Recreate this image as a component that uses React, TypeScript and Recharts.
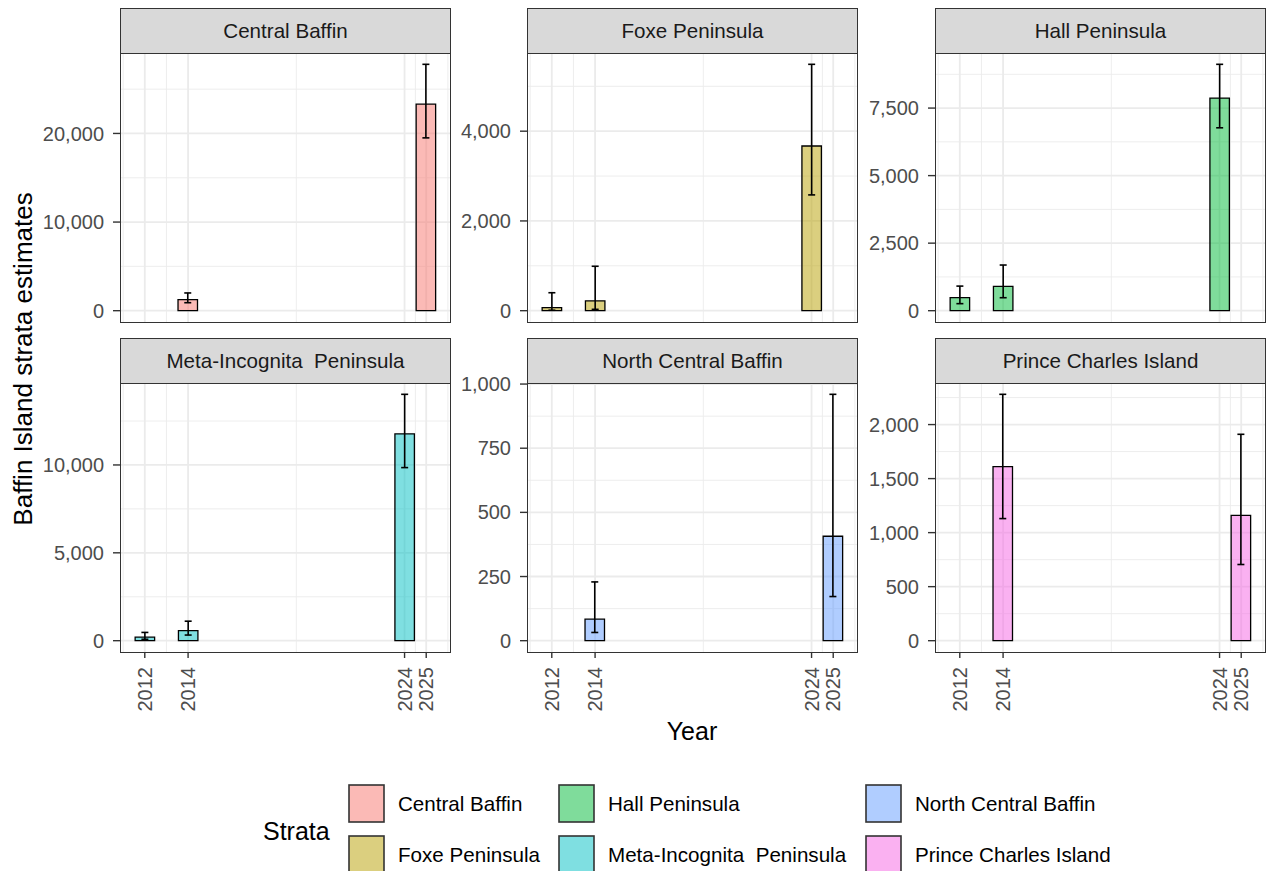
import React from "react";
import { BarChart, Bar, XAxis, YAxis, CartesianGrid, ErrorBar } from "recharts";

const strataNames = [
  "Central Baffin",
  "Foxe Peninsula",
  "Hall Peninsula",
  "Meta-Incognita  Peninsula",
  "North Central Baffin",
  "Prince Charles Island",
];
const strataColors = ["#F8766D", "#B79F00", "#00BA38", "#00BFC4", "#619CFF", "#F564E3"];
const yearTicks = [2012, 2014, 2024, 2025];

const centralBaffinYears = [2014, 2025];
const centralBaffinEstimate = [1250, 23300];
const centralBaffinLower = [900, 19500];
const centralBaffinUpper = [2000, 27800];
const centralBaffinTicks = [0, 10000, 20000];

const foxeYears = [2012, 2014, 2024];
const foxeEstimate = [70, 220, 3670];
const foxeLower = [10, 30, 2580];
const foxeUpper = [400, 990, 5490];
const foxeTicks = [0, 2000, 4000];

const hallYears = [2012, 2014, 2024];
const hallEstimate = [480, 900, 7870];
const hallLower = [260, 480, 6770];
const hallUpper = [910, 1690, 9120];
const hallTicks = [0, 2500, 5000, 7500];

const metaYears = [2012, 2014, 2024];
const metaEstimate = [200, 570, 11770];
const metaLower = [80, 320, 9850];
const metaUpper = [470, 1110, 14020];
const metaTicks = [0, 5000, 10000];

const northYears = [2014, 2025];
const northEstimate = [84, 407];
const northLower = [32, 172];
const northUpper = [229, 960];
const northTicks = [0, 250, 500, 750, 1000];

const princeYears = [2014, 2025];
const princeEstimate = [1610, 1160];
const princeLower = [1130, 705];
const princeUpper = [2280, 1910];
const princeTicks = [0, 500, 1000, 1500, 2000];

const FONT = "'Liberation Sans', Arial, sans-serif";
const Y_AXIS_W = 100;
const X_AXIS_H = 70;
const TOP_PAD = 20;
const PANEL_W = 331;
const PANEL_H = 271;
const STRIP_H = 44;
const COL_LEFT = [120, 527, 935];
const ROW_TOP = [52, 382];

// ggplot-like x limits: bar width 0.9, 5% expansion
const BAR_FRAC = 0.9;
const xLo = Math.min(...yearTicks) - BAR_FRAC / 2;
const xHi = Math.max(...yearTicks) + BAR_FRAC / 2;
const xPad = (xHi - xLo) * 0.05;
const xDomain = [xLo - xPad, xHi + xPad];
const BAR_W = (BAR_FRAC * PANEL_W) / (xDomain[1] - xDomain[0]);

function minorBreaks(b: number[], lim: number[]) {
  const bd = b[1] - b[0];
  let ext = [...b];
  if (lim[0] < ext[0]) ext = [ext[0] - bd, ...ext];
  if (lim[1] > ext[ext.length - 1]) ext = [...ext, ext[ext.length - 1] + bd];
  const out: number[] = [];
  for (let i = 0; i < ext.length - 1; i++) out.push((ext[i] + ext[i + 1]) / 2);
  return out.filter((v) => v > lim[0] && v < lim[1]);
}

const xMinor = minorBreaks(yearTicks, xDomain);

function YearTick(props: any) {
  const { x, y, payload } = props;
  return (
    <text
      x={x}
      y={y}
      transform={`rotate(-90, ${x}, ${y})`}
      textAnchor="end"
      dy="0.35em"
      fill="#4D4D4D"
      fontSize={20}
      fontFamily={FONT}
    >
      {payload.value}
    </text>
  );
}

type PanelProps = {
  idx: number;
  years: number[];
  est: number[];
  lo: number[];
  hi: number[];
  ticks: number[];
};

function Panel({ idx, years, est, lo, hi, ticks }: PanelProps) {
  const col = idx % 3;
  const row = Math.floor(idx / 3);
  const left = COL_LEFT[col];
  const top = ROW_TOP[row];
  const showX = row === 1;
  const data = years.map((y, i) => ({
    year: y,
    value: est[i],
    err: [est[i] - lo[i], hi[i] - est[i]],
  }));
  const maxV = Math.max(...hi);
  const yDomain = [-0.05 * maxV, 1.05 * maxV];
  const yMinor = minorBreaks(ticks, yDomain);
  const w = Y_AXIS_W + PANEL_W;
  const h = TOP_PAD + PANEL_H + (showX ? X_AXIS_H : 0);

  return (
    <>
      <div style={{ position: "absolute", left: left - Y_AXIS_W, top: top - TOP_PAD, width: w, height: h }}>
        <BarChart width={w} height={h} data={data} margin={{ top: TOP_PAD, right: 0, bottom: 0, left: 0 }}>
          <CartesianGrid
            stroke="#EBEBEB"
            strokeWidth={0.9}
            horizontalValues={yMinor}
            verticalValues={xMinor}
          />
          <CartesianGrid
            stroke="#EBEBEB"
            strokeWidth={1.8}
            horizontalValues={ticks}
            verticalValues={yearTicks}
          />
          <XAxis
            type="number"
            dataKey="year"
            domain={xDomain}
            ticks={yearTicks}
            interval={0}
            allowDataOverflow
            hide={!showX}
            height={X_AXIS_H}
            axisLine={false}
            tickSize={5}
            tickMargin={9}
            tickLine={{ stroke: "#333333", strokeWidth: 1.4 }}
            tick={<YearTick />}
          />
          <YAxis
            type="number"
            domain={yDomain}
            ticks={ticks}
            interval={0}
            allowDataOverflow
            width={Y_AXIS_W}
            axisLine={false}
            tickSize={7}
            tickMargin={9}
            tickLine={{ stroke: "#333333", strokeWidth: 1.4 }}
            tick={{ fill: "#4D4D4D", fontSize: 20, fontFamily: FONT }}
            tickFormatter={(v) => Number(v).toLocaleString("en-US")}
          />
          <Bar
            dataKey="value"
            fill={strataColors[idx]}
            fillOpacity={0.5}
            stroke="#000000"
            strokeWidth={1.3}
            barSize={BAR_W}
            isAnimationActive={false}
          >
            <ErrorBar
              dataKey="err"
              direction="y"
              width={3.5}
              stroke="#000000"
              strokeWidth={1.6}
              isAnimationActive={false}
            />
          </Bar>
        </BarChart>
      </div>
      <div
        style={{
          position: "absolute",
          left,
          top,
          width: PANEL_W,
          height: PANEL_H,
          border: "1.6px solid #333333",
          boxSizing: "border-box",
          pointerEvents: "none",
        }}
      />
      <div
        style={{
          position: "absolute",
          left,
          top: top - STRIP_H,
          width: PANEL_W,
          height: STRIP_H + 1.6,
          background: "#D9D9D9",
          border: "1.6px solid #333333",
          boxSizing: "border-box",
          display: "flex",
          alignItems: "center",
          justifyContent: "center",
          fontSize: 20.6,
          color: "#1A1A1A",
          whiteSpace: "pre",
        }}
      >
        {strataNames[idx]}
      </div>
    </>
  );
}

const legendKeyX = [349, 559, 866];
const legendKeyY = [785, 836];

export default function App() {
  const panels = [
    { years: centralBaffinYears, est: centralBaffinEstimate, lo: centralBaffinLower, hi: centralBaffinUpper, ticks: centralBaffinTicks },
    { years: foxeYears, est: foxeEstimate, lo: foxeLower, hi: foxeUpper, ticks: foxeTicks },
    { years: hallYears, est: hallEstimate, lo: hallLower, hi: hallUpper, ticks: hallTicks },
    { years: metaYears, est: metaEstimate, lo: metaLower, hi: metaUpper, ticks: metaTicks },
    { years: northYears, est: northEstimate, lo: northLower, hi: northUpper, ticks: northTicks },
    { years: princeYears, est: princeEstimate, lo: princeLower, hi: princeUpper, ticks: princeTicks },
  ];

  return (
    <div
      style={{
        position: "absolute",
        left: 0,
        top: 0,
        width: 1267,
        height: 871,
        background: "#FFFFFF",
        overflow: "hidden",
        fontFamily: FONT,
      }}
    >
      {panels.map((p, i) => (
        <Panel key={strataNames[i]} idx={i} {...p} />
      ))}
      <svg
        width={1267}
        height={871}
        style={{ position: "absolute", left: 0, top: 0, pointerEvents: "none" }}
        fontFamily={FONT}
      >
        <text
          x={23}
          y={359}
          transform="rotate(-90, 23, 359)"
          textAnchor="middle"
          dy="0.35em"
          fontSize={26}
          fill="#000000"
        >
          Baffin Island strata estimates
        </text>
        <text x={692} y={739.5} textAnchor="middle" fontSize={25} fill="#000000">
          Year
        </text>
        <text x={263} y={839.5} fontSize={25} fill="#000000">
          Strata
        </text>
        {strataNames.map((name, i) => {
          const c = Math.floor(i / 2);
          const r = i % 2;
          const kx = legendKeyX[c];
          const ky = legendKeyY[r];
          return (
            <g key={name}>
              <rect x={kx} y={ky} width={35} height={37} fill="#FFFFFF" />
              <rect
                x={kx}
                y={ky}
                width={35}
                height={37}
                fill={strataColors[i]}
                fillOpacity={0.5}
                stroke="#333333"
                strokeWidth={1.6}
              />
              <text
                x={kx + 49}
                y={ky + 18.5}
                dy="0.35em"
                fontSize={20.6}
                fill="#000000"
                style={{ whiteSpace: "pre" }}
              >
                {name}
              </text>
            </g>
          );
        })}
      </svg>
    </div>
  );
}
